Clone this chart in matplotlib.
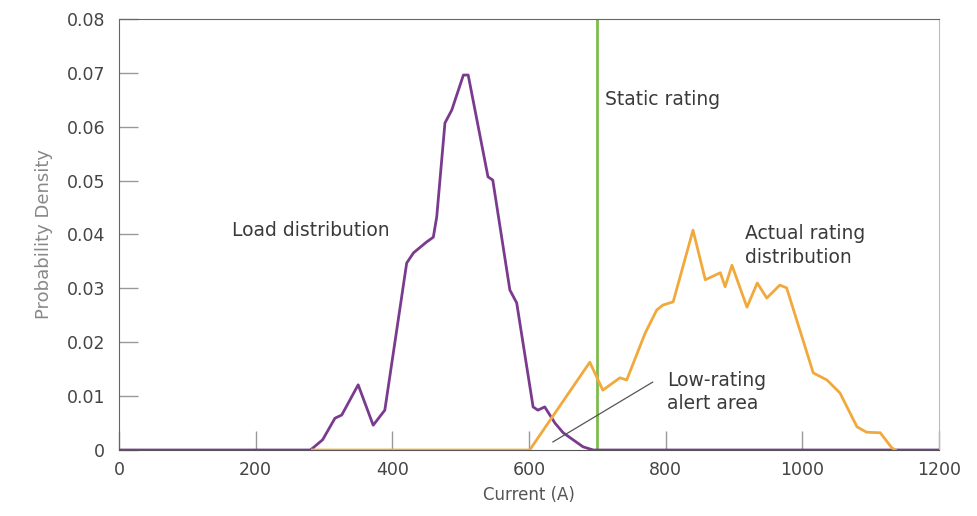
import matplotlib
matplotlib.use("Agg")
import matplotlib.pyplot as plt

# Load distribution (purple)
load_x = [0, 280, 284, 298, 316, 326, 350, 372, 389, 421, 431, 450, 460, 465, 477, 487,
          504, 511, 540, 547, 572, 582, 606, 613, 623, 638, 650, 679, 694, 1200]
load_y = [0, 0, 0.0004, 0.0019, 0.0059, 0.0065, 0.0121, 0.0046, 0.0074, 0.0347, 0.0366,
          0.0386, 0.0395, 0.0433, 0.0607, 0.0631, 0.0696, 0.0696, 0.0507, 0.0501,
          0.0297, 0.0273, 0.0080, 0.0074, 0.0080, 0.0050, 0.0032, 0.0006, 0, 0]

# Actual rating distribution (orange)
rating_x = [283, 601, 689, 708, 733, 743, 770, 787, 796, 811, 840, 858, 880, 887, 897,
            919, 934, 948, 967, 977, 1016, 1036, 1055, 1080, 1094, 1114, 1131, 1136]
rating_y = [0, 0, 0.0163, 0.0111, 0.0134, 0.0130, 0.0217, 0.0260, 0.0269, 0.0275,
            0.0408, 0.0316, 0.0329, 0.0303, 0.0343, 0.0265, 0.0310, 0.0282, 0.0306,
            0.0301, 0.0143, 0.0130, 0.0106, 0.0043, 0.0033, 0.0032, 0.0004, 0]

static_rating = 700
x_ticks = [0, 200, 400, 600, 800, 1000, 1200]
y_ticks = [0, 0.01, 0.02, 0.03, 0.04, 0.05, 0.06, 0.07, 0.08]
y_tick_labels = ["0", "0.01", "0.02", "0.03", "0.04", "0.05", "0.06", "0.07", "0.08"]

plt.rcParams['font.family'] = ['DejaVu Sans']

fig = plt.figure(figsize=(9.77, 5.16), dpi=100)
ax = fig.add_axes([0.1218, 0.1279, 0.8393, 0.8353])

purple = "#7a3b8e"
orange = "#f2a93b"
green = "#7dbb4f"
txt = "#3a3a3a"

ax.plot(load_x, load_y, color=purple, lw=2.0, zorder=3)
ax.plot(rating_x, rating_y, color=orange, lw=2.0, zorder=4)
ax.plot([static_rating, static_rating], [0, 0.08], color=green, lw=2.0, zorder=2)

ax.set_xlim(0, 1200)
ax.set_ylim(0, 0.08)
ax.set_xticks(x_ticks)
ax.set_xticklabels([str(t) for t in x_ticks])
ax.set_yticks(y_ticks)
ax.set_yticklabels(y_tick_labels)
ax.tick_params(axis='both', direction='in', length=14, width=1, color="#999999",
               labelcolor="#444444", labelsize=12.5)
ax.tick_params(axis='x', pad=8)
ax.tick_params(axis='y', pad=10)

for s in ['left', 'top']:
    ax.spines[s].set_color("#666666")
ax.spines['bottom'].set_color("#555555")
ax.spines['right'].set_color("#bbbbbb")

ax.set_xlabel("Current (A)", color="#555555", fontsize=12, labelpad=5)
ax.set_ylabel("Probability Density", color="#888888", fontsize=13, labelpad=10)

fs = 13.5
ax.text(165, 0.0408, "Load distribution", fontsize=fs, color=txt, ha='left', va='center')
ax.text(711, 0.0650, "Static rating", fontsize=fs, color=txt, ha='left', va='center')
ax.text(916, 0.0420, "Actual rating\ndistribution", fontsize=fs, color=txt,
        ha='left', va='top', linespacing=1.35)
ax.text(802, 0.0147, "Low-rating\nalert area", fontsize=fs, color=txt,
        ha='left', va='top', linespacing=1.3)
ax.plot([635, 781], [0.0015, 0.0126], color="#555555", lw=0.9, zorder=5)

fig.savefig("out.png", dpi=100)
